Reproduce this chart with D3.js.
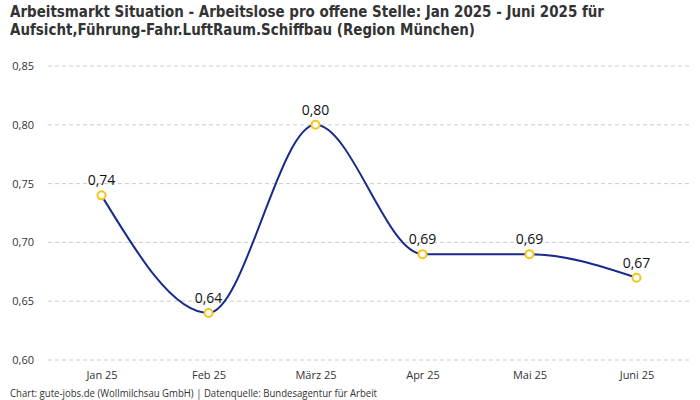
<!DOCTYPE html>
<html>
<head>
<meta charset="utf-8">
<script src="https://cdn.jsdelivr.net/npm/d3@7"></script>
<style>
  body { margin: 0; background: #fff; }
  svg { display: block; }
  .title { font-family: "DejaVu Sans Condensed", "DejaVu Sans", sans-serif; font-weight: bold; font-size: 16.5px; fill: #333; }
  .tick text { font-family: "Open Sans", sans-serif; font-size: 11px; fill: #333; }
  .grid line { stroke: #ccc; stroke-dasharray: 4,3; }
  .label { font-family: "Open Sans", sans-serif; font-size: 14px; font-weight: 500; fill: #111; text-anchor: middle; }
  .footer { font-family: "Open Sans", sans-serif; font-size: 10px; fill: #333; }
</style>
</head>
<body>
<svg width="700" height="400"></svg>
<script>
var months = ["Jan 25", "Feb 25", "März 25", "Apr 25", "Mai 25", "Juni 25"];
var values = [0.74, 0.64, 0.80, 0.69, 0.69, 0.67];
var yTicks = [0.60, 0.65, 0.70, 0.75, 0.80, 0.85];

var marginLeft = 48, marginRight = 690, marginTop = 66, marginBottom = 360;

var svg = d3.select("svg");

var fmt = function(d) { return d.toFixed(2).replace(".", ","); };

var x = d3.scalePoint()
  .domain(months)
  .range([marginLeft, marginRight])
  .padding(0.5);

var y = d3.scaleLinear()
  .domain([0.60, 0.85])
  .range([marginBottom, marginTop]);

// title
var title = svg.append("text").attr("class", "title");
title.append("tspan").attr("x", 10).attr("y", 17)
  .attr("textLength", 594).attr("lengthAdjust", "spacingAndGlyphs")
  .text("Arbeitsmarkt Situation - Arbeitslose pro offene Stelle: Jan 2025 - Juni 2025 für");
title.append("tspan").attr("x", 10).attr("y", 35)
  .attr("textLength", 465).attr("lengthAdjust", "spacingAndGlyphs")
  .text("Aufsicht,Führung-Fahr.LuftRaum.Schiffbau (Region München)");

// grid
svg.append("g")
  .attr("class", "grid")
  .selectAll("line")
  .data(yTicks)
  .enter()
  .append("line")
  .attr("x1", marginLeft)
  .attr("x2", marginRight)
  .attr("y1", function(d) { return y(d); })
  .attr("y2", function(d) { return y(d); });

// y axis
var yAxis = svg.append("g")
  .attr("transform", "translate(" + marginLeft + ",0)")
  .call(d3.axisLeft(y).tickValues(yTicks).tickFormat(fmt).tickSize(0).tickPadding(14));
yAxis.select(".domain").remove();

// x axis
var xAxis = svg.append("g")
  .attr("transform", "translate(0," + marginBottom + ")")
  .call(d3.axisBottom(x).tickSize(0).tickPadding(11));
xAxis.select(".domain").remove();

// line
var line = d3.line()
  .x(function(d, i) { return x(months[i]); })
  .y(function(d) { return y(d); })
  .curve(d3.curveMonotoneX);

svg.append("path")
  .datum(values)
  .attr("d", line)
  .attr("fill", "none")
  .attr("stroke", "#1a2a8c")
  .attr("stroke-width", 2);

// points
svg.append("g")
  .selectAll("circle")
  .data(values)
  .enter()
  .append("circle")
  .attr("cx", function(d, i) { return x(months[i]); })
  .attr("cy", function(d) { return y(d); })
  .attr("r", 4)
  .attr("fill", "#fff")
  .attr("stroke", "#f5c518")
  .attr("stroke-width", 2);

// labels
svg.append("g")
  .selectAll("text")
  .data(values)
  .enter()
  .append("text")
  .attr("class", "label")
  .attr("x", function(d, i) { return x(months[i]); })
  .attr("y", function(d) { return y(d) - 10; })
  .text(fmt);

// footer
svg.append("text")
  .attr("class", "footer")
  .attr("x", 10)
  .attr("y", 397)
  .attr("textLength", 367).attr("lengthAdjust", "spacingAndGlyphs")
  .text("Chart: gute-jobs.de (Wollmilchsau GmbH) | Datenquelle: Bundesagentur für Arbeit");
</script>
</body>
</html>
